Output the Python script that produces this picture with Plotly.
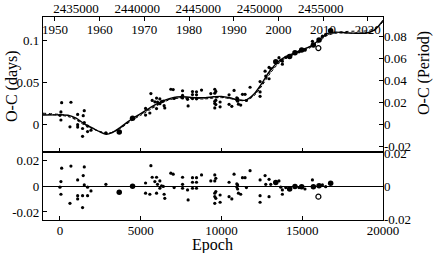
import plotly.graph_objects as go

# ---------------- data ----------------
P = 1.32            # period in days (epoch -> days)
T0 = 2433693.0      # JD of epoch 0
EPOCH_RANGE = [-1050, 20000]

# model curves
curve_epoch = [-1050, 0, 500, 1000, 1500, 2000, 2500, 2860, 3200, 3700, 4500, 5000, 5500, 6000,
               6500, 7000, 7500, 8000, 8500, 9000, 9500, 10000, 10500, 11000, 11500, 12000,
               12500, 13000, 13500, 14000, 14500, 15000, 15500, 16000, 16500, 17000, 17500,
               18000, 18500, 19000, 19500, 20000]
curve_solid = [0.0113, 0.0115, 0.011, 0.0075, 0.001, -0.004, -0.009, -0.0115, -0.010, -0.004,
               0.0074, 0.013, 0.019, 0.0245, 0.029, 0.032, 0.033, 0.0325, 0.032, 0.032, 0.033,
               0.0335, 0.032, 0.0295, 0.029, 0.036, 0.049, 0.064, 0.0745, 0.081, 0.085, 0.089,
               0.093, 0.100, 0.108, 0.110, 0.1095, 0.1088, 0.1087, 0.109, 0.113, 0.124]
curve_dashed = [0.0125, 0.011, 0.0095, 0.0055, -0.0005, -0.005, -0.0085, -0.010, -0.0095, -0.005,
                0.0055, 0.011, 0.0168, 0.0225, 0.0275, 0.0305, 0.0315, 0.031, 0.0305, 0.0305,
                0.0315, 0.032, 0.031, 0.029, 0.0285, 0.034, 0.046, 0.0605, 0.072, 0.079, 0.0835,
                0.0875, 0.0915, 0.098, 0.1055, 0.1085, 0.109, 0.1088, 0.1088, 0.1092, 0.1125, 0.1225]
curve_dotted = [0.0135, 0.012, 0.0105, 0.0065, 0.0005, -0.0045, -0.0085, -0.0105, -0.0095, -0.0045,
                0.0065, 0.012, 0.018, 0.0235, 0.0285, 0.031, 0.032, 0.0315, 0.0312, 0.0315,
                0.0322, 0.0325, 0.0312, 0.0292, 0.0292, 0.035, 0.0475, 0.062, 0.0735, 0.080,
                0.0845, 0.0885, 0.093, 0.0995, 0.1065, 0.1095, 0.1105, 0.111, 0.1112, 0.1115,
                0.1145, 0.1235]

# ordinary minima (small dots)
small_epoch = [105, 60, 0, 60, 680, 620, 1095, 1095, 1095, 1440, 1505, 1505, 1400, 1400, 1710,
               1710, 1920, 2845, 5300, 5300, 5630, 5565, 5710, 5875, 5980, 5980, 6040, 6185,
               6185, 6290, 6400, 6450, 6490, 6865, 7010, 7070, 7590, 7590, 7590, 7900, 7935,
               8205, 8205, 8205, 8455, 8455, 8455, 8765, 9340, 9585, 9585, 9585, 9585, 9585,
               9650, 9650, 9650, 9915, 9915, 10470, 10470, 10640, 10780, 10950, 10950, 11000,
               11000, 11050, 11190, 11300, 11460, 11545, 11770, 12390, 12390, 12390, 12700,
               12740, 12945, 12945, 13050, 13560, 13670, 13770, 13770, 13980, 14800, 15170,
               15630, 16250, 16450]
small_oc = [0.026, 0.015, 0.011, 0.0054, 0.0265, -0.0027, 0.012, -0.0002, -0.003, 0.0105, 0.0165,
            0.0024, -0.0047, -0.014, -0.0084, -0.0018, -0.0068, -0.0098, 0.0192, 0.0112, 0.0368,
            0.0137, 0.0287, 0.027, 0.0315, 0.019, 0.0267, 0.0305, 0.0248, 0.0274, 0.028, 0.0224,
            0.0197, 0.042, 0.0416, 0.0311, 0.0402, 0.0347, 0.0316, 0.030, 0.0221, 0.0392, 0.0356,
            0.0309, 0.0389, 0.0353, 0.0306, 0.041, 0.0368, 0.042, 0.0373, 0.0277, 0.0251, 0.0198,
            0.0394, 0.029, 0.0237, 0.0268, 0.0211, 0.0353, 0.024, 0.0217, 0.0406, 0.0318, 0.0293,
            0.031, 0.0278, 0.0242, 0.0232, 0.0359, 0.0359, 0.0286, 0.0444, 0.0511, 0.0388, 0.0336,
            0.0635, 0.0577, 0.068, 0.0545, 0.0667, 0.0796, 0.0764, 0.0753, 0.0719, 0.0799, 0.0865,
            0.0884, 0.0991, 0.1052, 0.107]
small_res = [0.0143, 0.0038, -0.0006, -0.0061, 0.016, -0.0132, 0.0051, -0.0072, -0.0098, 0.0085,
             0.0153, 0.0012, -0.0072, -0.0166, -0.0072, -0.0006, -0.0035, 0.0017, 0.0027, -0.0053,
             0.0163, -0.0061, 0.0072, 0.0038, 0.0072, -0.0053, 0.0017, 0.0043, -0.0014, 0.0004,
             0.0, -0.0061, -0.0093, 0.0104, 0.0096, -0.0009, 0.0072, 0.0017, -0.0014, -0.0027,
             -0.0106, 0.0069, 0.0033, -0.0014, 0.0069, 0.0033, -0.0014, 0.009, 0.0043, 0.009,
             0.0043, -0.0053, -0.0079, -0.0132, 0.0064, -0.004, -0.0093, -0.0067, -0.0124, 0.0033,
             -0.008, -0.0098, 0.0096, 0.002, -0.0005, 0.0012, -0.002, -0.0053, -0.0061, 0.0069,
             0.0069, -0.0009, 0.0124, 0.0051, -0.0072, -0.0124, 0.0085, 0.0017, 0.0056, -0.008,
             0.0017, 0.0043, -0.0006, -0.0027, -0.0061, -0.0009, -0.0009, -0.002, 0.0051, 0.0012,
             -0.0002]

# precise (CCD) minima (large dots)
large_epoch = [3670, 4495, 13360, 14220, 14550, 14965, 15690, 16040, 16760]
large_oc = [-0.0089, 0.0074, 0.0748, 0.081, 0.0854, 0.0887, 0.0946, 0.1006, 0.1115]
large_res = [-0.0046, 0.0002, 0.003, -0.002, -0.0001, -0.0002, -0.0002, 0.0006, 0.0025]

# open circle
open_epoch = [16000]
open_oc = [0.0910]
open_res = [-0.008]

# tick labels
epoch_ticks = [0, 5000, 10000, 15000, 20000]
epoch_text = ["0", "5000", "10000", "15000", "20000"]
jd_ticks = [2435000, 2440000, 2445000, 2450000, 2455000]
jd_text = ["2435000", "2440000", "2445000", "2450000", "2455000"]
year_ticks = [1950, 1960, 1970, 1980, 1990, 2000, 2010, 2020]
year_text = ["1950", "1960", "1970", "1980", "1990", "2000", "2010", "2020"]
oc_days_ticks = [0, 0.05, 0.1]
oc_days_text = ["0", "0.05", "0.1"]
oc_per_ticks = [-0.02, 0, 0.02, 0.04, 0.06, 0.08]
oc_per_text = ["-0.02", "0", "0.02", "0.04", "0.06", "0.08"]
res_ticks = [-0.02, 0, 0.02]
res_text = ["-0.02", "0", "0.02"]

# ---------------- figure ----------------
W, H = 436, 253
FONT = "Liberation Serif, Times New Roman, serif"
x0p, x1p = 43 / W, 383 / W
top_dom = [(H - 152) / H, (H - 17) / H]
bot_dom = [(H - 220) / H, (H - 152) / H]

top_range = [-0.0327, 0.128]
bot_range = [-0.0263, 0.027]

jd_range = [T0 + P * EPOCH_RANGE[0], T0 + P * EPOCH_RANGE[1]]
yr_range = [2000 + (j - 2451545.0) / 365.25 for j in jd_range]

fig = go.Figure()

fig.add_trace(go.Scatter(x=curve_epoch, y=curve_dotted, mode="lines", xaxis="x2", yaxis="y2",
                         line=dict(color="black", width=1, dash="dot", shape="spline", smoothing=0.9),
                         showlegend=False))
fig.add_trace(go.Scatter(x=curve_epoch, y=curve_dashed, mode="lines", xaxis="x2", yaxis="y2",
                         line=dict(color="black", width=1, dash="3px,2px", shape="spline", smoothing=0.9),
                         showlegend=False))
fig.add_trace(go.Scatter(x=curve_epoch, y=curve_solid, mode="lines", xaxis="x2", yaxis="y2",
                         line=dict(color="black", width=1.4, shape="spline", smoothing=0.9),
                         showlegend=False))

fig.add_trace(go.Scatter(x=small_epoch, y=small_oc, mode="markers", xaxis="x2", yaxis="y2",
                         marker=dict(color="black", size=3.2), showlegend=False))
fig.add_trace(go.Scatter(x=large_epoch, y=large_oc, mode="markers", xaxis="x2", yaxis="y2",
                         marker=dict(color="black", size=5.5), showlegend=False))
fig.add_trace(go.Scatter(x=open_epoch, y=open_oc, mode="markers", xaxis="x2", yaxis="y2",
                         marker=dict(color="black", size=5, symbol="circle-open",
                                     line=dict(width=1.2)), showlegend=False))

fig.add_trace(go.Scatter(x=small_epoch, y=small_res, mode="markers", xaxis="x", yaxis="y",
                         marker=dict(color="black", size=3.2), showlegend=False))
fig.add_trace(go.Scatter(x=large_epoch, y=large_res, mode="markers", xaxis="x", yaxis="y",
                         marker=dict(color="black", size=5.5), showlegend=False))
fig.add_trace(go.Scatter(x=open_epoch, y=open_res, mode="markers", xaxis="x", yaxis="y",
                         marker=dict(color="black", size=5, symbol="circle-open",
                                     line=dict(width=1.2)), showlegend=False))

# dummy traces to activate overlay axes
fig.add_trace(go.Scatter(x=[], y=[], xaxis="x3", yaxis="y2", showlegend=False))
fig.add_trace(go.Scatter(x=[], y=[], xaxis="x4", yaxis="y2", showlegend=False))
fig.add_trace(go.Scatter(x=[], y=[], xaxis="x5", yaxis="y2", showlegend=False))
fig.add_trace(go.Scatter(x=[], y=[], xaxis="x2", yaxis="y3", showlegend=False))
fig.add_trace(go.Scatter(x=[], y=[], xaxis="x", yaxis="y4", showlegend=False))

tickfont = dict(family=FONT, size=13, color="black")
common_ax = dict(showgrid=False, linecolor="black", linewidth=1.2, automargin=False,
                 tickcolor="black", tickfont=tickfont)

fig.update_layout(
    width=W, height=H, autosize=False,
    margin=dict(l=0, r=0, t=0, b=0, pad=0, autoexpand=False),
    paper_bgcolor="white", plot_bgcolor="white",
    font=dict(family=FONT, color="black"),
    xaxis=dict(domain=[x0p, x1p], anchor="y", range=EPOCH_RANGE, tickvals=epoch_ticks,
               ticktext=epoch_text, ticks="inside", ticklen=4, showline=True, mirror=True,
               zeroline=False, ticklabelstandoff=-2, **common_ax),
    yaxis=dict(domain=bot_dom, anchor="x", range=bot_range, tickvals=res_ticks, ticktext=res_text,
               ticks="inside", ticklen=4, showline=True, mirror=True,
               zeroline=True, zerolinecolor="black", zerolinewidth=1.3, **common_ax),
    yaxis4=dict(overlaying="y", side="right", anchor="x", range=[-0.0202, 0.021],
                tickvals=res_ticks, ticktext=res_text, ticks="", showline=False,
                zeroline=False, **common_ax),
    xaxis2=dict(domain=[x0p, x1p], anchor="y2", range=EPOCH_RANGE, tickvals=epoch_ticks,
                showticklabels=False, ticks="inside", ticklen=4, showline=True, mirror=True,
                zeroline=False, **common_ax),
    yaxis2=dict(domain=top_dom, anchor="x2", range=top_range, tickvals=oc_days_ticks,
                ticktext=oc_days_text, ticks="inside", ticklen=4, showline=True, mirror=True,
                zeroline=False, **common_ax),
    yaxis3=dict(overlaying="y2", side="right", anchor="x2",
                range=[top_range[0] / 1.31, top_range[1] / 1.31],
                tickvals=oc_per_ticks, ticktext=oc_per_text, ticks="inside", ticklen=4,
                showline=False, zeroline=False, **common_ax),
    # year tick marks (inside, at the top border)
    xaxis3=dict(overlaying="x2", side="top", anchor="y2", range=yr_range, tickvals=year_ticks,
                ticks="inside", ticklen=4, showticklabels=False, showline=False,
                zeroline=False, **common_ax),
    # year labels, drawn just inside the top border
    xaxis5=dict(overlaying="x2", side="top", anchor="free", position=(H - 37) / H,
                range=yr_range, tickvals=year_ticks, ticktext=year_text, ticks="",
                showline=False, zeroline=False, **common_ax),
    # JD labels above the top border
    xaxis4=dict(overlaying="x2", side="top", anchor="y2", range=jd_range, tickvals=jd_ticks,
                ticktext=jd_text, ticks="", showline=False, zeroline=False, **common_ax),
    annotations=[
        dict(text="O-C (days)", xref="paper", yref="paper", x=12 / W, y=1 - 86 / H,
             textangle=-90, showarrow=False, font=dict(family=FONT, size=16, color="black"),
             xanchor="center", yanchor="middle"),
        dict(text="O-C (Period)", xref="paper", yref="paper", x=424 / W, y=1 - 73 / H,
             textangle=-90, showarrow=False, font=dict(family=FONT, size=16, color="black"),
             xanchor="center", yanchor="middle"),
        dict(text="Epoch", xref="paper", yref="paper", x=212 / W, y=1 - 245 / H,
             showarrow=False, font=dict(family=FONT, size=16, color="black"),
             xanchor="center", yanchor="middle"),
    ],
)

fig.write_html(
    "out.html",
    config={"displayModeBar": False},
    post_script=("document.documentElement.style.margin='0';"
                 "document.body.style.margin='0';document.body.style.padding='0';"
                 "document.body.style.overflow='hidden';"),
)
